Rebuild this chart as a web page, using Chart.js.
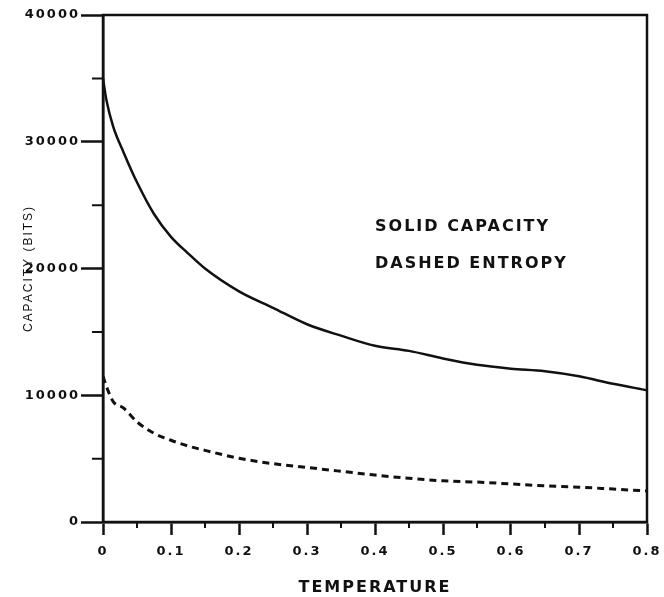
<!DOCTYPE html>
<html>
<head>
<meta charset="utf-8">
<script src="https://cdn.jsdelivr.net/npm/chart.js@4.4.1/dist/chart.umd.min.js"></script>
<style>
  html, body { margin: 0; padding: 0; background: #fff; }
</style>
</head>
<body>
<canvas id="capacityChart" width="664" height="597"></canvas>
<script>
// values
const temperature = [0, 0.005, 0.015, 0.03, 0.05, 0.075, 0.1, 0.125, 0.15, 0.2, 0.25, 0.3, 0.35, 0.4, 0.45, 0.5, 0.55, 0.6, 0.65, 0.7, 0.75, 0.8];
const capacity = [35000, 33300, 31200, 29200, 26800, 24300, 22500, 21200, 20000, 18200, 16900, 15600, 14700, 13900, 13500, 12900, 12400, 12100, 11900, 11500, 10900, 10400];
const entropy = [11500, 10700, 9500, 9000, 7900, 7000, 6450, 6000, 5650, 5030, 4600, 4300, 4000, 3700, 3450, 3250, 3150, 3000, 2850, 2750, 2600, 2450];

// axis ticks
const minorX = [0.05, 0.15, 0.25, 0.35, 0.45, 0.55, 0.65, 0.75];
const minorY = [5000, 15000, 25000, 35000];

// text notes inside the plot, anchored in data units
const notes = ['SOLID CAPACITY', 'DASHED ENTROPY'];
const noteX = 0.4;
const noteY = [23300, 20400];

const ink = '#111';

// frame, half-step ticks and the two notes
const framePlugin = {
  id: 'framePlugin',
  beforeUpdate(chart) {
    chart.ctx.letterSpacing = '2px';
  },
  beforeDraw(chart) {
    const ctx = chart.ctx;
    ctx.save();
    ctx.fillStyle = '#fff';
    ctx.fillRect(0, 0, chart.width, chart.height);
    ctx.restore();
    ctx.letterSpacing = '2px';
  },
  afterDraw(chart) {
    const { ctx, chartArea, scales } = chart;
    ctx.save();
    ctx.strokeStyle = ink;
    ctx.lineWidth = 2.5;
    ctx.strokeRect(chartArea.left, chartArea.top, chartArea.right - chartArea.left, chartArea.bottom - chartArea.top);

    ctx.lineWidth = 2;
    ctx.beginPath();
    minorX.forEach(v => {
      const px = scales.x.getPixelForValue(v);
      ctx.moveTo(px, chartArea.bottom);
      ctx.lineTo(px, chartArea.bottom + 6);
    });
    minorY.forEach(v => {
      const py = scales.y.getPixelForValue(v);
      ctx.moveTo(chartArea.left, py);
      ctx.lineTo(chartArea.left - 11, py);
    });
    ctx.stroke();

    ctx.fillStyle = ink;
    ctx.font = 'bold 16px "DejaVu Sans"';
    ctx.textAlign = 'left';
    ctx.textBaseline = 'middle';
    notes.forEach((text, i) => {
      ctx.fillText(text, scales.x.getPixelForValue(noteX), scales.y.getPixelForValue(noteY[i]));
    });
    ctx.restore();
  }
};

Chart.defaults.font.family = '"DejaVu Sans"';
Chart.defaults.color = ink;

new Chart(
  document.getElementById('capacityChart'),
  {
    type: 'line',
    data: {
      datasets: [
        {
          label: 'Capacity',
          data: temperature.map((t, i) => ({ x: t, y: capacity[i] })),
          borderColor: ink,
          borderWidth: 2.5,
          pointRadius: 0,
          cubicInterpolationMode: 'monotone'
        },
        {
          label: 'Entropy',
          data: temperature.map((t, i) => ({ x: t, y: entropy[i] })),
          borderColor: ink,
          borderWidth: 3,
          borderDash: [7, 5],
          pointRadius: 0,
          cubicInterpolationMode: 'monotone'
        }
      ]
    },
    options: {
      responsive: false,
      animation: false,
      layout: { padding: { top: 15, right: 17, left: 0, bottom: 0 } },
      plugins: {
        legend: { display: false },
        tooltip: { enabled: false }
      },
      scales: {
        x: {
          type: 'linear',
          min: 0,
          max: 0.8,
          afterFit: scale => {
            scale.height = 75;
            scale.paddingLeft = 0;
            scale.paddingRight = 0;
          },
          border: { display: true, color: ink, width: 2.5 },
          grid: { drawOnChartArea: false, drawTicks: true, tickLength: 13, tickColor: ink, tickWidth: 2.5 },
          ticks: {
            stepSize: 0.1,
            padding: 9,
            maxRotation: 0,
            font: { size: 13, weight: 'bold' },
            callback: v => (v === 0 ? '0' : v.toFixed(1))
          },
          title: {
            display: true,
            text: 'TEMPERATURE',
            font: { size: 16, weight: 'bold', lineHeight: 1 },
            padding: { top: 0, bottom: 1 }
          }
        },
        y: {
          min: 0,
          max: 40000,
          afterFit: scale => {
            scale.width = 103;
            scale.paddingTop = 0;
            scale.paddingBottom = 0;
          },
          border: { display: true, color: ink, width: 2.5 },
          grid: { drawOnChartArea: false, drawTicks: true, tickLength: 22, tickColor: ink, tickWidth: 2.5 },
          ticks: {
            stepSize: 10000,
            padding: 1,
            font: { size: 13, weight: 'bold' },
            callback: v => String(v)
          },
          title: {
            display: true,
            text: 'CAPACITY (BITS)',
            font: { family: '"Liberation Sans"', size: 12, lineHeight: 1.2 },
            padding: { top: 21, bottom: 0 }
          }
        }
      }
    },
    plugins: [framePlugin]
  }
);
</script>
</body>
</html>
